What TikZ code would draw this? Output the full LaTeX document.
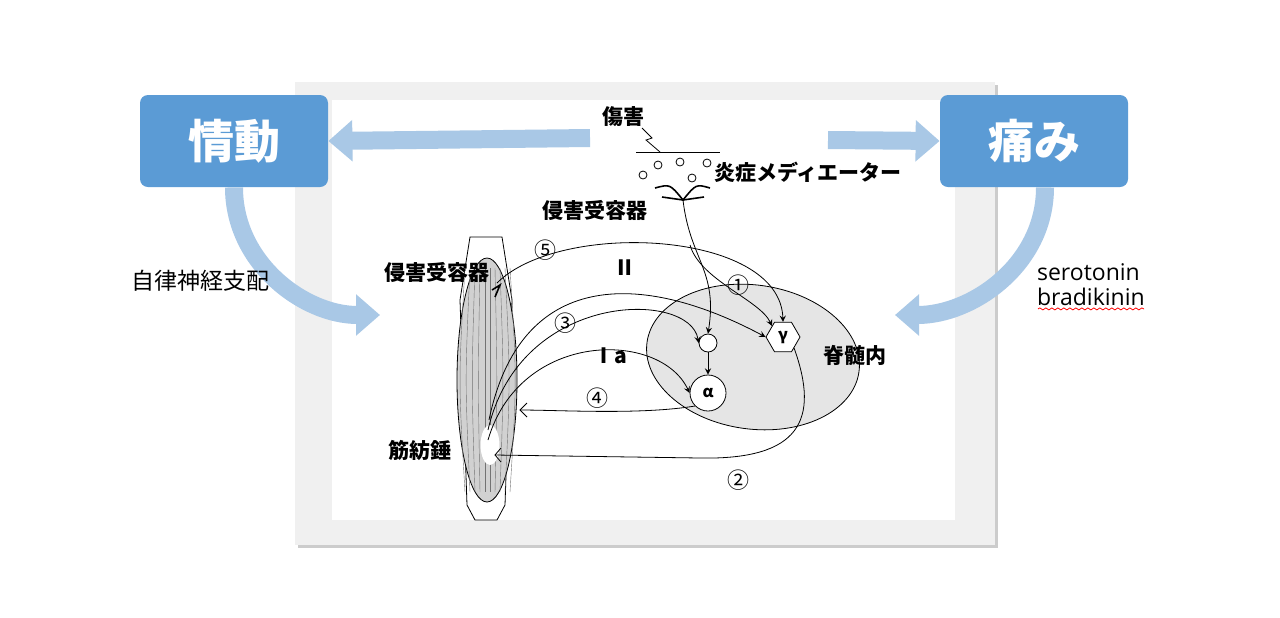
\documentclass[tikz,border=0pt]{standalone}
\usepackage{fontspec}
\setmainfont{Noto Sans CJK JP}
\newfontfamily\latinfont{Open Sans}
\usetikzlibrary{shapes.geometric, arrows, arrows.meta, decorations.pathmorphing}
\definecolor{boxblue}{HTML}{5B9BD5}
\definecolor{arrowblue}{HTML}{A9C8E6}
\tikzstyle{bigbox} = [rectangle, rounded corners=4pt, minimum width=94pt, minimum height=46pt, fill=boxblue, text=white, font=\fontsize{23}{25}\selectfont\bfseries]
\tikzstyle{fatarrow} = [arrowblue, line width=9pt, -{Triangle[length=12pt,width=20pt]}]
\tikzstyle{nerve} = [thin,->,>=stealth]
\tikzstyle{label} = [font=\fontsize{10.5}{11}\selectfont\bfseries]
\tikzstyle{num} = [font=\fontsize{11}{11}\selectfont]

\begin{document}
\begin{tikzpicture}[x=0.5pt, y=-0.5pt]
        \useasboundingbox (0,0) rectangle (1280,617);
        % panel
        \fill[black!20] (298,85) rectangle (998,548);
        \fill[black!6] (295,82) rectangle (995,545);
        \fill[white] (332,100) rectangle (955,520);
        % boxes
        \node (emo) [bigbox] at (234,141) {情動};
        \node (pain) [bigbox] at (1034,141) {痛み};
        \coordinate (mid1) at (590,138);
        \coordinate (mid2) at (828,140);
        \draw [fatarrow] (mid1) -- (emo.east);
        \draw [fatarrow] (mid2) -- (pain.west);
        \coordinate (auto) at (380,315);
        \coordinate (sero) at (895,315);
        \draw [fatarrow] (emo.south) to[out=-90, in=180] (auto);
        \draw [fatarrow] (pain.south -| 1045,0) to[out=-90, in=0] (sero);
        \node (autolab) [font=\fontsize{11.5}{12}\selectfont] at (200,281) {自律神経支配};
        \node (serolab) [font=\latinfont\fontsize{11.5}{12}\selectfont, anchor=west] at (1030,272) {serotonin};
        \node (bradlab) [font=\latinfont\fontsize{11.5}{12}\selectfont, anchor=west] at (1030,297) {bradikinin};
        \draw [red, decorate, decoration={snake, amplitude=0.5pt, segment length=3pt}] (bradlab.south west) ++(8,-4) -- ++(106,0);
        % spinal cord
        \node (cord) [ellipse, draw, fill=black!10, minimum width=107pt, minimum height=72pt, rotate=-8] at (753,357) {};
        \node (cordlab) [label] at (855,355) {脊髄内};
        % muscle
        \draw [fill=white] (470,237) -- (502,237) -- (512,300) -- (505,505) -- (497,520) -- (475,520) -- (467,505) -- (460,300) -- cycle;
        \node (muscle) [ellipse, draw, fill=black!18, minimum width=30pt, minimum height=122pt] at (487,380) {};
        \foreach \dx in {-22,-17,...,23}
            \draw [black!55, very thin] (487+\dx,268) .. controls (487+\dx*1.3,380) .. (487+\dx,492);
        \node (spindle) [ellipse, fill=white, minimum width=5pt, minimum height=20pt] at (490,445) {};
        \node (muscrec) [label] at (437,272) {侵害受容器};
        \node (spinlab) [label] at (420,450) {筋紡錘};
        % injury
        \node (injury) [label] at (623,117) {傷害};
        \draw (636,152) -- (720,152);
        \draw (642,128) -- (652,138) -- (646,140) -- (660,152);
        \foreach \cx/\cy in {643/175, 658/165, 680/162, 692/178, 707/163}
            \draw (\cx,\cy) circle (4);
        \node (medi) [label] at (808,172) {炎症メディエーター};
        \draw [thick] (655,188) .. controls (670,184) .. (683,200) .. controls (696,184) .. (710,188);
        \draw [thick] (662,197) -- (683,200) -- (704,197);
        \coordinate (nocic) at (683,200);
        \node (noclab) [label] at (595,210) {侵害受容器};
        % neurons
        \node (inter) [circle, draw, fill=white, minimum size=9pt, inner sep=0] at (708,343) {};
        \node (alpha) [circle, draw, fill=white, minimum size=18pt, inner sep=0, font=\fontsize{8}{8}\selectfont\bfseries] at (708,393) {α};
        \node (gamma) [regular polygon, regular polygon sides=6, draw, fill=white, minimum size=17pt, inner sep=0, font=\fontsize{8}{8}\selectfont\bfseries] at (783,337) {γ};
        \draw [nerve] (nocic) .. controls (690,260) and (718,270) .. (inter.north);
        \draw [nerve] (690,245) .. controls (700,280) and (760,300) .. (gamma.north west);
        \draw [nerve] (inter) -- (alpha);
        \coordinate (rec5) at (497,283);
        \draw [thick] (492,290) -- (500,285) -- (495,297);
        \draw [nerve] (rec5) .. controls (560,220) and (780,230) .. (gamma.north);
        \draw [nerve] (489,420) .. controls (520,270) and (640,270) .. (gamma.west);
        \draw [nerve] (488,430) .. controls (520,290) and (690,290) .. (inter.west);
        \draw [nerve] (488,440) .. controls (520,330) and (660,330) .. (alpha.west);
        \draw (alpha.south west) .. controls (640,415) and (560,410) .. (520,410);
        \draw (527,403) -- (520,410) -- (527,417);
        \draw (gamma.south east) .. controls (820,420) and (800,460) .. (700,458) -- (495,455);
        \draw (501,448) -- (495,455) -- (501,462);
        % numbers
        \node (n1) [num] at (738,285) {①};
        \node (n2) [num] at (738,480) {②};
        \node (n3) [num] at (565,323) {③};
        \node (n4) [num] at (597,398) {④};
        \node (n5) [num] at (545,250) {⑤};
        \node (nII) [label] at (625,268) {Ⅱ};
        \node (nIa) [label] at (610,356) {Ⅰa};
    \end{tikzpicture}
\end{document}
